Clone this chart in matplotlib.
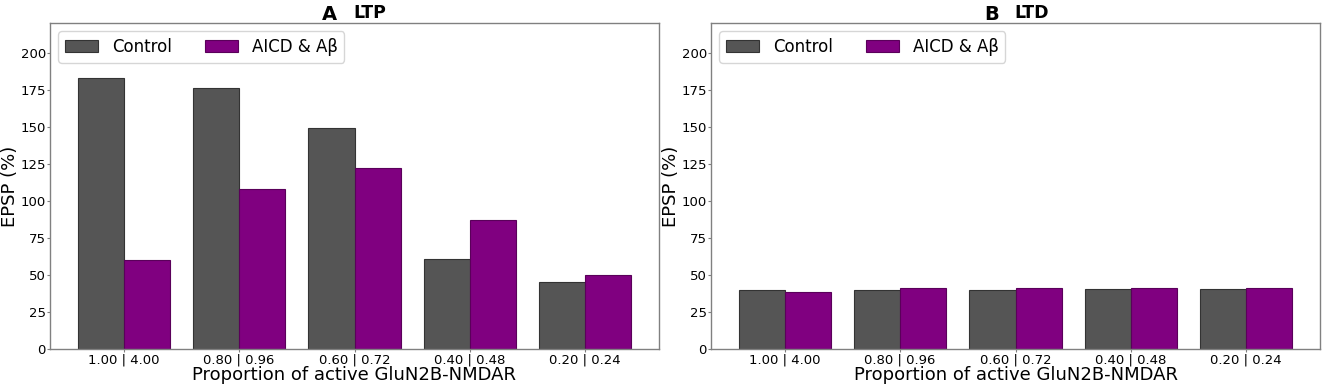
import matplotlib
matplotlib.use("Agg")
import matplotlib.pyplot as plt
import numpy as np

categories = ["1.00 | 4.00", "0.80 | 0.96", "0.60 | 0.72", "0.40 | 0.48", "0.20 | 0.24"]
ltp_control = [183, 176, 149, 61, 45]
ltp_aicd = [60, 108, 122, 87, 50]
ltd_control = [40, 40, 40, 40.5, 40.5]
ltd_aicd = [38.5, 41, 41, 41, 41.5]
series_names = ["Control", "AICD & A\u03b2"]
panel_letters = ["A", "B"]
panel_titles = ["LTP", "LTD"]

col_ctrl = "#555555"
col_aicd = "#800080"

W, H = 1325, 388
fig = plt.figure(figsize=(W/100, H/100), dpi=100)
ax1 = fig.add_axes([50/W, 1-349/H, 609/W, 326/H])
ax2 = fig.add_axes([711/W, 1-349/H, 609/W, 326/H])

x = np.arange(len(categories))
w = 0.4
panels = [(ax1, ltp_control, ltp_aicd), (ax2, ltd_control, ltd_aicd)]
for (ax, c, a), letter, title in zip(panels, panel_letters, panel_titles):
    ax.bar(x - w/2, c, w, color=col_ctrl, edgecolor="#333333", linewidth=0.8, label=series_names[0])
    ax.bar(x + w/2, a, w, color=col_aicd, edgecolor="#5a005a", linewidth=0.8, label=series_names[1])
    ax.set_ylim(0, 220)
    ax.set_yticks([0, 25, 50, 75, 100, 125, 150, 175, 200])
    ax.set_xticks(x)
    ax.set_xticklabels(categories, fontsize=9.5)
    ax.tick_params(axis="y", labelsize=9.5)
    ax.tick_params(length=2, pad=1, width=0.8)
    ax.set_ylabel("EPSP (%)", fontsize=13, labelpad=1)
    ax.set_xlabel("Proportion of active GluN2B-NMDAR", fontsize=13, labelpad=0)
    for s in ax.spines.values():
        s.set_color("#808080")
        s.set_linewidth(1.0)
    ax.tick_params(colors="#808080", labelcolor="black")
    ax.legend(loc="upper left", ncol=2, fontsize=12, frameon=True)
    ax.text(0.5 - 17/609, 1 + 3/326, letter, transform=ax.transAxes, ha="right", va="baseline",
            fontsize=14, fontweight="bold")
    ax.text(0.5 - 1.5/609, 1 + 4.5/326, title, transform=ax.transAxes, ha="left", va="baseline",
            fontsize=12.5, fontweight="bold")

fig.savefig("out.png", dpi=100)
